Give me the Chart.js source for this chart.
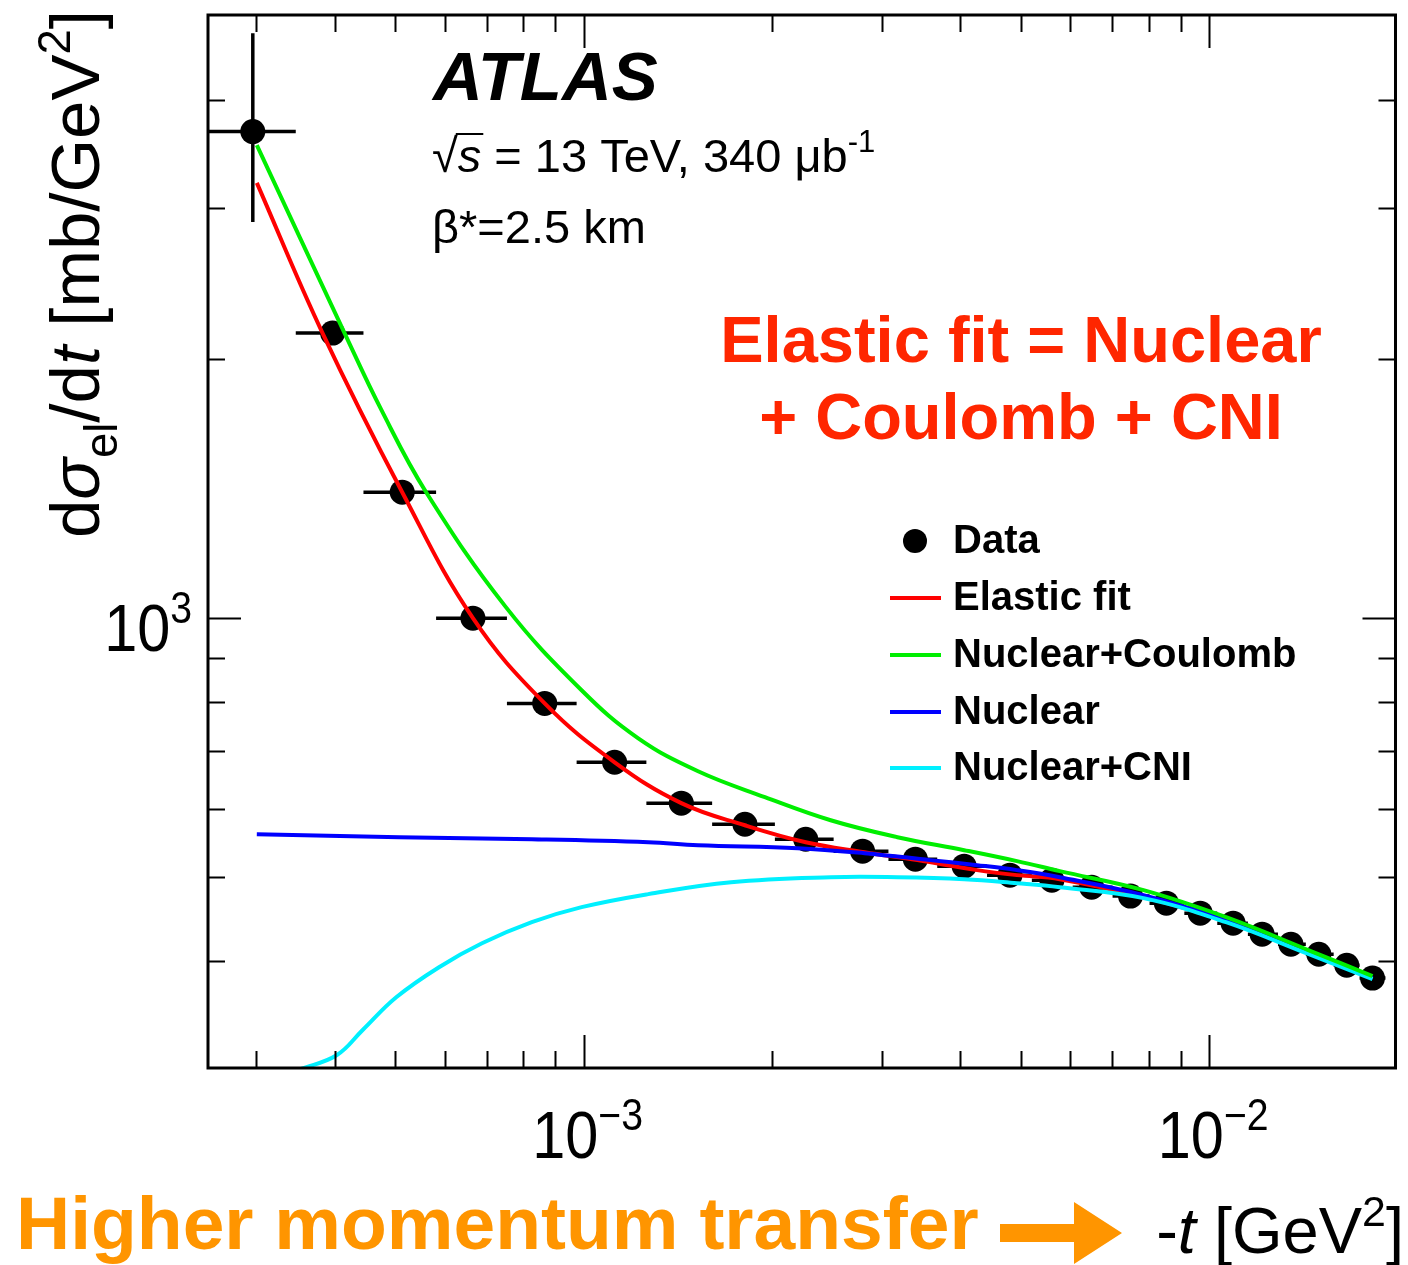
<!DOCTYPE html>
<html>
<head>
<meta charset="utf-8">
<title>ATLAS elastic dsigma/dt</title>
<script src="https://cdn.jsdelivr.net/npm/chart.js@4.4.1/dist/chart.umd.min.js"></script>
<style>
  html, body { margin: 0; padding: 0; background: #fff; }
  #wrap { width: 1408px; height: 1265px; }
</style>
</head>
<body>
<div id="wrap"><canvas id="elasticChart" width="1408" height="1265"></canvas></div>
<script>
// measured points: -t bin centre [GeV^2] and dsigma/dt [mb/GeV^2]
const tData = [2.96e-4, 3.97e-4, 5.13e-4, 6.655e-4, 8.667e-4, 1.121e-3, 1.433e-3, 1.811e-3,
  2.265e-3, 2.792e-3, 3.391e-3, 4.058e-3, 4.803e-3, 5.604e-3, 6.488e-3, 7.485e-3,
  8.542e-3, 9.676e-3, 1.092e-2, 1.215e-2, 1.351e-2, 1.497e-2, 1.659e-2, 1.824e-2];
const dsdtData = [3678, 2145, 1401, 1000, 796, 680, 609.5, 576,
  553.4, 536, 524.7, 514.9, 502.7, 496, 486.8, 475.3,
  466.4, 454.0, 442.0, 429.2, 417.8, 406.8, 395.0, 381.6];
// bin edges (x error bars)
const tLow = [2.45e-4, 3.467e-4, 4.448e-4, 5.811e-4, 7.542e-4, 9.747e-4, 1.260e-3, 1.605e-3,
  2.022e-3, 2.510e-3, 3.071e-3, 3.675e-3, 4.414e-3, 5.206e-3, 6.050e-3, 7.007e-3,
  8.028e-3, 9.125e-3, 1.030e-2, 1.153e-2, 1.288e-2, 1.427e-2, 1.581e-2, 1.739e-2];
const tHigh = [3.467e-4, 4.448e-4, 5.811e-4, 7.542e-4, 9.747e-4, 1.260e-3, 1.605e-3, 2.022e-3,
  2.510e-3, 3.071e-3, 3.675e-3, 4.414e-3, 5.206e-3, 6.050e-3, 7.007e-3, 8.028e-3,
  9.125e-3, 1.030e-2, 1.153e-2, 1.288e-2, 1.427e-2, 1.581e-2, 1.739e-2, 1.913e-2];
// vertical errors (only the first one is larger than the marker)
const errDown = [791, 0, 0, 0, 0, 0, 0, 0, 0, 0, 0, 0, 0, 0, 0, 0, 0, 0, 0, 0, 0, 0, 0, 0];
const errUp = [1108, 0, 0, 0, 0, 0, 0, 0, 0, 0, 0, 0, 0, 0, 0, 0, 0, 0, 0, 0, 0, 0, 0, 0];

// fit curves
const fitT = [3.004e-4, 3.826e-4, 5.13e-4, 6.655e-4, 8.667e-4, 1.121e-3, 1.433e-3, 1.811e-3,
  2.265e-3, 2.812e-3, 3.416e-3, 4.256e-3, 4.929e-3, 5.77e-3, 7.851e-3, 1.064e-2, 1.443e-2, 1.824e-2];
const fitVal = [3206, 2145, 1401, 1000, 796, 680, 609.5, 574.5,
  549, 534.5, 523.3, 509.5, 502.7, 497.3, 474.0, 444.4, 407.9, 381.6];

const ncT = [3.004e-4, 4.149e-4, 4.751e-4, 5.602e-4, 7.513e-4, 9.927e-4, 1.223e-3, 1.524e-3, 1.949e-3,
  2.483e-3, 3.174e-3, 4.058e-3, 4.929e-3, 5.77e-3, 7.851e-3, 1.064e-2, 1.443e-2, 1.824e-2];
const ncVal = [3548, 2145, 1746, 1401, 1030, 824.6, 725, 663.8, 619.4,
  582.2, 556.4, 537.4, 521.9, 508.1, 482.9, 449.2, 411.1, 383.6];

const nucT = [3.004e-4, 5.074e-4, 8.265e-4, 1.269e-3, 1.524e-3, 2.199e-3, 2.812e-3, 3.583e-3,
  4.256e-3, 4.929e-3, 5.77e-3, 7.851e-3, 1.064e-2, 1.443e-2, 1.824e-2];
const nucVal = [560.8, 556.4, 553.4, 549.0, 544.6, 540.3, 533.1, 523.3,
  516.3, 509.5, 499.9, 476.5, 445.6, 407.9, 381.6];

const cniT = [3.518e-4, 4.029e-4, 4.431e-4, 5.018e-4, 5.874e-4, 6.88e-4, 8.265e-4, 9.927e-4, 1.269e-3,
  1.721e-3, 2.483e-3, 3.174e-3, 4.058e-3, 4.929e-3, 5.77e-3, 7.851e-3, 1.064e-2, 1.443e-2, 1.824e-2];
const cniVal = [298.9, 310.4, 331.9, 362.5, 392.9, 418.9, 443.2, 461.4, 477.8,
  493.3, 499.9, 499.9, 497.3, 492.0, 486.8, 472.7, 443.2, 406.8, 380.6];

// axis ticks
const xMajorTicks = [1e-3, 1e-2];
const xMinorTicks = [3e-4, 4e-4, 5e-4, 6e-4, 7e-4, 8e-4, 9e-4,
  2e-3, 3e-3, 4e-3, 5e-3, 6e-3, 7e-3, 8e-3, 9e-3];
const yMajorTicks = [1000];
const yMinorTicks = [400, 500, 600, 700, 800, 900, 2000, 3000, 4000];

const FONT = '"Liberation Sans", Arial, Helvetica, sans-serif';

const pts = (xs, ys) => xs.map((x, i) => ({ x: x, y: ys[i] }));

// draws a run of text pieces: [text, kind] with kind '', 'i', 'sub', 'sup'
function richText(ctx, parts, x, y, size, weight, draw) {
  let cx = x;
  parts.forEach(([txt, kind]) => {
    const small = kind === 'sub' || kind === 'sup';
    const s = small ? size * 0.66 : size;
    const it = kind === 'i' ? 'italic ' : '';
    ctx.font = `${it}${weight || ''} ${s}px ${FONT}`;
    let dy = 0;
    if (kind === 'sub') dy = size * 0.26;
    if (kind === 'sup') dy = -size * 0.42;
    if (draw !== false) ctx.fillText(txt, cx, y + dy);
    cx += ctx.measureText(txt).width;
  });
  return cx - x;
}

const errorBars = {
  id: 'errorBars',
  beforeDatasetsDraw(chart) {
    const { ctx, chartArea, scales: { x, y } } = chart;
    ctx.save();
    ctx.beginPath();
    ctx.rect(chartArea.left, chartArea.top, chartArea.right - chartArea.left, chartArea.bottom - chartArea.top);
    ctx.clip();
    ctx.strokeStyle = '#000';
    ctx.lineWidth = 3.5;
    tData.forEach((t, i) => {
      const py = y.getPixelForValue(dsdtData[i]);
      const px = x.getPixelForValue(t);
      ctx.beginPath();
      ctx.moveTo(x.getPixelForValue(tLow[i]), py);
      ctx.lineTo(x.getPixelForValue(tHigh[i]), py);
      if (errDown[i] > 0 || errUp[i] > 0) {
        ctx.moveTo(px, y.getPixelForValue(dsdtData[i] - errDown[i]));
        ctx.lineTo(px, y.getPixelForValue(dsdtData[i] + errUp[i]));
      }
      ctx.stroke();
    });
    ctx.restore();
  }
};

const frameTicks = {
  id: 'frameTicks',
  afterDatasetsDraw(chart) {
    const { ctx, chartArea: a, scales: { x, y } } = chart;
    ctx.save();
    ctx.strokeStyle = '#000';
    ctx.lineWidth = 2;
    const tick = (vals, len) => {
      vals.forEach(v => {
        const px = Math.round(x.getPixelForValue(v)) + 0.5;
        ctx.beginPath();
        ctx.moveTo(px, a.bottom); ctx.lineTo(px, a.bottom - len);
        ctx.moveTo(px, a.top); ctx.lineTo(px, a.top + len);
        ctx.stroke();
      });
    };
    const ytick = (vals, len) => {
      vals.forEach(v => {
        const py = Math.round(y.getPixelForValue(v)) + 0.5;
        ctx.beginPath();
        ctx.moveTo(a.left, py); ctx.lineTo(a.left + len, py);
        ctx.moveTo(a.right, py); ctx.lineTo(a.right - len, py);
        ctx.stroke();
      });
    };
    tick(xMinorTicks, 17);
    tick(xMajorTicks, 33);
    ytick(yMinorTicks, 17);
    ytick(yMajorTicks, 33);
    ctx.lineWidth = 3;
    ctx.strokeRect(a.left, a.top, a.right - a.left, a.bottom - a.top);
    ctx.restore();
  }
};

const annotations = {
  id: 'annotations',
  afterDraw(chart) {
    const { ctx, scales: { x, y } } = chart;
    ctx.save();
    ctx.fillStyle = '#000';
    ctx.textBaseline = 'alphabetic';
    ctx.textAlign = 'left';

    // tick labels, a bit taller than wide like the ROOT ones
    const yl = y.getPixelForValue(1000);
    ctx.save();
    ctx.scale(0.9, 1);
    let w = richText(ctx, [['10', ''], ['3', 'sup']], 0, 0, 66, '', false);
    richText(ctx, [['10', ''], ['3', 'sup']], (192 - w * 0.9) / 0.9, yl + 33, 66, '');
    [[1e-3, '\u22123'], [1e-2, '\u22122']].forEach(([v, e]) => {
      const px = x.getPixelForValue(v);
      const parts = [['10', ''], [e, 'sup']];
      const lw = richText(ctx, parts, 0, 0, 66, '', false) * 0.9;
      richText(ctx, parts, (px - lw / 2 + 4) / 0.9, 1158, 66, '');
    });
    ctx.restore();

    // y title, rotated
    ctx.save();
    ctx.translate(99, 10);
    ctx.rotate(-Math.PI / 2);
    const yTitle = [['d', ''], ['\u03c3', 'i'], ['el', 'sub'], ['/d', ''], ['t', 'i'], [' [mb/GeV', ''], ['2', 'sup'], [']', '']];
    w = richText(ctx, yTitle, 0, 0, 69, '', false);
    richText(ctx, yTitle, -w, 0, 69, '');
    ctx.restore();

    // x title
    const xTitle = [['-', ''], ['t', 'i'], [' [GeV', ''], ['2', 'sup'], [']', '']];
    w = richText(ctx, xTitle, 0, 0, 65, '', false);
    richText(ctx, xTitle, 1404 - w, 1253, 65, '');

    ctx.fillStyle = '#ff9500';
    ctx.font = `bold 75px ${FONT}`;
    ctx.fillText('Higher momentum transfer', 16, 1249);
    ctx.beginPath();
    ctx.moveTo(1000, 1224); ctx.lineTo(1074, 1224); ctx.lineTo(1074, 1202);
    ctx.lineTo(1122, 1233); ctx.lineTo(1074, 1264); ctx.lineTo(1074, 1242);
    ctx.lineTo(1000, 1242); ctx.closePath();
    ctx.fill();

    // ATLAS label
    ctx.fillStyle = '#000';
    ctx.font = `italic bold 69px ${FONT}`;
    ctx.fillText('ATLAS', 433, 100);
    const sx = 432;
    ctx.font = `47px ${FONT}`;
    ctx.fillText('\u221a', sx, 172);
    const rw = ctx.measureText('\u221a').width;
    w = richText(ctx, [['s', 'i']], sx + rw, 172, 47, '');
    ctx.lineWidth = 2;
    ctx.beginPath();
    ctx.moveTo(sx + rw - 2, 134); ctx.lineTo(sx + rw + w + 2, 134);
    ctx.stroke();
    richText(ctx, [[' = 13 TeV, 340 \u03bcb', ''], ['-1', 'sup']], sx + rw + w, 172, 47, '');
    ctx.font = `47px ${FONT}`;
    ctx.fillText('\u03b2*=2.5 km', 432, 243);

    // red statement
    ctx.fillStyle = '#ff2600';
    ctx.font = `bold 65px ${FONT}`;
    ctx.textAlign = 'center';
    ctx.fillText('Elastic fit = Nuclear', 1021, 362);
    ctx.fillText('+ Coulomb + CNI', 1021, 439);

    // legend
    ctx.textAlign = 'left';
    ctx.textBaseline = 'middle';
    ctx.font = `bold 40px ${FONT}`;
    const rows = [541, 598, 655, 712, 768];
    chart.data.datasets.forEach((ds, i) => {
      const ry = rows[i];
      if (ds.showLine === false) {
        ctx.fillStyle = '#000';
        ctx.beginPath();
        ctx.arc(915, ry, 12, 0, Math.PI * 2);
        ctx.fill();
      } else {
        ctx.strokeStyle = ds.borderColor;
        ctx.lineWidth = 4;
        ctx.beginPath();
        ctx.moveTo(890, ry); ctx.lineTo(941, ry);
        ctx.stroke();
      }
      ctx.fillStyle = '#000';
      ctx.fillText(ds.label, 953, ry + 1);
    });
    ctx.restore();
  }
};

const curve = (label, data, color, order) => ({
  label: label,
  data: data,
  borderColor: color,
  backgroundColor: color,
  borderWidth: 4,
  pointRadius: 0,
  fill: false,
  tension: 0.4,
  order: order
});

new Chart(document.getElementById('elasticChart'), {
  type: 'line',
  data: {
    datasets: [
      {
        label: 'Data',
        data: pts(tData, dsdtData),
        showLine: false,
        pointRadius: 12.5,
        pointHoverRadius: 12.5,
        pointBackgroundColor: '#000',
        pointBorderColor: '#000',
        pointBorderWidth: 0,
        order: 5
      },
      curve('Elastic fit', pts(fitT, fitVal), '#ff0000', 4),
      curve('Nuclear+Coulomb', pts(ncT, ncVal), '#00ee00', 1),
      curve('Nuclear', pts(nucT, nucVal), '#0000ff', 3),
      curve('Nuclear+CNI', pts(cniT, cniVal), '#00f0ff', 2)
    ]
  },
  options: {
    responsive: false,
    animation: false,
    events: [],
    layout: { padding: { left: 208, right: 8, top: 15, bottom: 197 } },
    plugins: {
      legend: { display: false },
      tooltip: { enabled: false }
    },
    scales: {
      x: { type: 'logarithmic', min: 2.51e-4, max: 1.985e-2, display: false },
      y: { type: 'logarithmic', min: 300, max: 5025, display: false }
    }
  },
  plugins: [errorBars, frameTicks, annotations]
});
</script>
</body>
</html>
